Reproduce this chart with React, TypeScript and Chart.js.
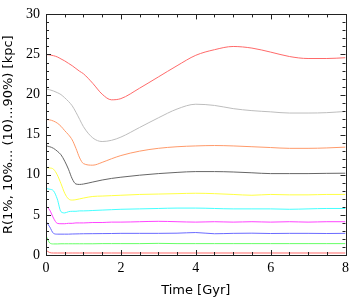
import React, { useEffect, useRef } from "react";
import { Chart, registerables } from "chart.js";

Chart.register(...registerables);

const times = [0, 0.1, 0.2, 0.3, 0.4, 0.5, 0.6, 0.7, 0.8, 0.9, 1.0, 1.25, 1.5, 1.75, 2, 2.5, 3, 3.5, 4, 4.5, 5, 5.5, 6, 6.5, 7, 7.5, 8];

const r90 = [25.0, 24.95, 24.85, 24.7, 24.45, 24.2, 23.9, 23.6, 23.25, 22.9, 22.6, 21.4, 20.05, 19.35, 19.5, 20.8, 22.2, 23.6, 24.9, 25.6, 26.0, 25.8, 25.3, 24.75, 24.5, 24.5, 24.6];
const r80 = [20.7, 20.6, 20.45, 20.25, 20.0, 19.6, 19.15, 18.6, 17.8, 16.9, 16.0, 14.6, 14.15, 14.3, 14.7, 15.9, 17.1, 18.2, 18.8, 18.65, 18.25, 18.0, 17.85, 17.7, 17.7, 17.75, 17.9];
const r70 = [16.9, 16.85, 16.7, 16.45, 16.05, 15.5, 15.0, 14.35, 13.3, 12.1, 11.4, 11.2, 11.55, 12.0, 12.4, 12.95, 13.3, 13.5, 13.6, 13.65, 13.6, 13.5, 13.4, 13.3, 13.3, 13.35, 13.45];
const r60 = [13.6, 13.5, 13.3, 12.95, 12.5, 11.7, 10.7, 9.5, 8.85, 8.8, 8.85, 9.1, 9.35, 9.55, 9.7, 9.95, 10.15, 10.3, 10.4, 10.4, 10.35, 10.25, 10.15, 10.15, 10.15, 10.18, 10.2];
const r50 = [10.9, 10.85, 10.7, 10.0, 8.9, 7.7, 7.0, 6.85, 6.9, 7.0, 7.1, 7.3, 7.35, 7.4, 7.45, 7.55, 7.6, 7.65, 7.7, 7.65, 7.55, 7.45, 7.55, 7.5, 7.5, 7.55, 7.55];
const r40 = [8.3, 8.2, 8.0, 7.0, 5.4, 5.25, 5.4, 5.45, 5.45, 5.5, 5.5, 5.55, 5.6, 5.65, 5.7, 5.75, 5.8, 5.85, 5.85, 5.8, 5.75, 5.75, 5.75, 5.7, 5.75, 5.8, 5.8];
const r30 = [6.1, 5.6, 4.6, 3.95, 3.9, 3.9, 3.95, 3.95, 4.0, 4.0, 4.0, 4.05, 4.05, 4.1, 4.1, 4.15, 4.2, 4.15, 4.1, 4.15, 4.1, 4.15, 4.1, 4.15, 4.1, 4.15, 4.15];
const r20 = [4.2, 3.5, 2.7, 2.6, 2.6, 2.6, 2.6, 2.62, 2.63, 2.64, 2.65, 2.66, 2.67, 2.68, 2.7, 2.7, 2.7, 2.72, 2.8, 2.65, 2.7, 2.72, 2.68, 2.7, 2.7, 2.68, 2.7];
const r10 = [2.4, 1.5, 1.38, 1.38, 1.4, 1.4, 1.4, 1.4, 1.4, 1.4, 1.4, 1.4, 1.42, 1.42, 1.42, 1.42, 1.45, 1.42, 1.42, 1.42, 1.42, 1.42, 1.42, 1.42, 1.42, 1.42, 1.42];
const r01 = [0.6, 0.3, 0.25, 0.25, 0.25, 0.25, 0.25, 0.25, 0.25, 0.25, 0.25, 0.25, 0.25, 0.25, 0.25, 0.25, 0.25, 0.25, 0.25, 0.25, 0.25, 0.25, 0.25, 0.25, 0.25, 0.25, 0.25];

const seriesList = [r01, r10, r20, r30, r40, r50, r60, r70, r80, r90];
const seriesColors = ["#ff6a6a", "#66ff66", "#6a6aff", "#ff44ff", "#44ffff", "#ffff44", "#666666", "#ff9a6a", "#bdbdbd", "#ff6a6a"];

const xTitle = "Time [Gyr]";
const yTitle = "R(1%, 10%... (10)...90%) [kpc]";

const xMin = 0, xMax = 8, xMajor = 2, xMinor = 0.5;
const yMin = 0, yMax = 30, yMajor = 5, yMinor = 1;

const frameTicks = {
  id: "frameTicks",
  afterDraw(chart: any) {
    const { ctx, chartArea: a, scales } = chart;
    const xs = scales.x, ys = scales.y;
    ctx.save();
    ctx.strokeStyle = "#222";
    ctx.lineWidth = 1;
    ctx.beginPath();
    for (let v = xMin; v <= xMax + 1e-9; v += xMinor) {
      const p = Math.round(xs.getPixelForValue(v)) + 0.5;
      const len = Math.abs(v / xMajor - Math.round(v / xMajor)) < 1e-6 ? 5 : 3;
      ctx.moveTo(p, a.bottom);
      ctx.lineTo(p, a.bottom - len);
      ctx.moveTo(p, a.top);
      ctx.lineTo(p, a.top + len);
    }
    for (let v = yMin; v <= yMax + 1e-9; v += yMinor) {
      const p = Math.round(ys.getPixelForValue(v)) + 0.5;
      const len = Math.abs(v / yMajor - Math.round(v / yMajor)) < 1e-6 ? 5 : 3;
      ctx.moveTo(a.left, p);
      ctx.lineTo(a.left + len, p);
      ctx.moveTo(a.right, p);
      ctx.lineTo(a.right - len, p);
    }
    ctx.stroke();
    ctx.strokeRect(Math.round(a.left) + 0.5, Math.round(a.top) + 0.5, Math.round(a.right - a.left), Math.round(a.bottom - a.top));
    ctx.restore();
  },
};

export default function App() {
  const ref = useRef<HTMLCanvasElement>(null);
  useEffect(() => {
    if (!ref.current) return;
    const chart = new Chart(ref.current, {
      type: "line",
      data: {
        datasets: seriesList.map((s, i) => ({
          data: s.map((v, j) => ({ x: times[j], y: v })),
          borderColor: seriesColors[i],
          borderWidth: 1,
          pointRadius: 0,
          cubicInterpolationMode: "monotone" as const,
          fill: false,
        })),
      },
      options: {
        animation: false,
        responsive: false,
        layout: { padding: { top: 5, right: 6, left: 0, bottom: 0 } },
        plugins: { legend: { display: false }, tooltip: { enabled: false } },
        scales: {
          x: {
            type: "linear",
            min: xMin,
            max: xMax,
            grid: { display: false, drawTicks: false },
            border: { display: false },
            ticks: {
              stepSize: xMajor,
              padding: 5,
              color: "#000",
              font: { family: "'Liberation Serif', serif", size: 14 },
              maxRotation: 0,
            },
            title: {
              display: true,
              text: xTitle,
              color: "#000",
              font: { family: "'DejaVu Sans', sans-serif", size: 13 },
              padding: { top: 0, bottom: 2 },
            },
            afterFit(scale: any) {
              scale.height = 45;
            },
          },
          y: {
            type: "linear",
            min: yMin,
            max: yMax,
            grid: { display: false, drawTicks: false },
            border: { display: false },
            ticks: {
              stepSize: yMajor,
              padding: 6,
              color: "#000",
              font: { family: "'Liberation Serif', serif", size: 14 },
            },
            title: {
              display: true,
              text: yTitle,
              color: "#000",
              font: { family: "'DejaVu Sans', sans-serif", size: 13 },
              padding: { top: 1, bottom: 0 },
            },
            afterFit(scale: any) {
              scale.width = 46;
            },
          },
        },
      },
      plugins: [frameTicks],
    });
    return () => chart.destroy();
  }, []);
  return (
    <div style={{ position: "fixed", left: 0, top: 0, width: 354, height: 300, background: "#fff" }}>
      <canvas ref={ref} width={354} height={300} style={{ width: 354, height: 300, display: "block" }} />
    </div>
  );
}
